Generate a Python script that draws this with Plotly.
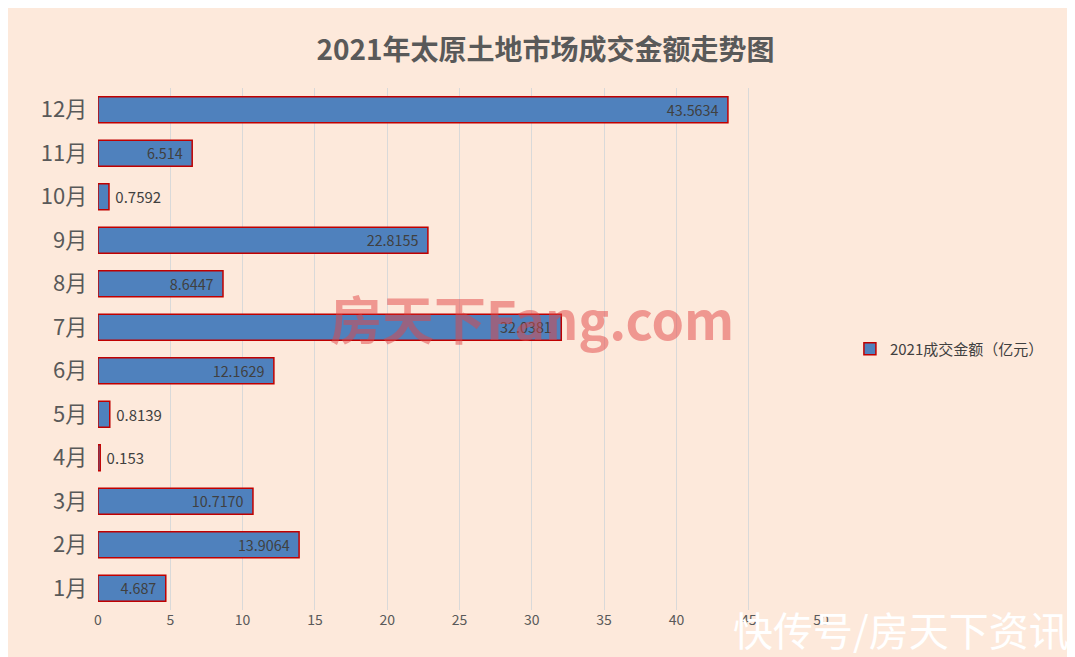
import plotly.graph_objects as go

months = ["1月", "2月", "3月", "4月", "5月", "6月", "7月", "8月", "9月", "10月", "11月", "12月"]
values = [4.687, 13.9064, 10.7170, 0.153, 0.8139, 12.1629, 32.0381, 8.6447, 22.8155, 0.7592, 6.514, 43.5634]
labels = ["4.687", "13.9064", "10.7170", "0.153", "0.8139", "12.1629", "32.0381", "8.6447", "22.8155", "0.7592", "6.514", "43.5634"]
x_ticks = [0, 5, 10, 15, 20, 25, 30, 35, 40, 45, 50]

positions = ["inside" if v > 3 else "outside" for v in values]

fig = go.Figure()
fig.add_trace(go.Bar(
    y=months, x=values, orientation="h",
    name="2021成交金额（亿元）",
    text=[l + "  " if p == "inside" else " " + l for l, p in zip(labels, positions)],
    textposition=positions, insidetextanchor="end",
    textfont={"size": 15, "color": "#404040"},
    marker={"color": "#4F81BD", "line": {"color": "#C00000", "width": 1.5}},
    cliponaxis=False,
))

fig.add_annotation(
    text="<b>房天下Fang.com</b>", x=0.6, y=0.56, xref="paper", yref="paper",
    showarrow=False, font={"size": 52, "color": "rgba(225,70,70,0.5)", "family": "Noto Sans CJK SC"},
)
fig.add_annotation(
    text="快传号/房天下资讯", x=1.0, y=0.0, xref="paper", yref="paper", xshift=250, yshift=-50,
    xanchor="right", yanchor="bottom", showarrow=False,
    font={"size": 40, "color": "white", "family": "Noto Sans CJK SC"},
)

fig.update_layout(
    width=1075, height=657,
    title={"text": "<b>2021年太原土地市场成交金额走势图</b>", "x": 0.5, "y": 0.95,
           "font": {"size": 28, "color": "#595959"}},
    paper_bgcolor="#FDE9DB", plot_bgcolor="#FDE9DB",
    margin={"l": 90, "r": 262, "t": 80, "b": 55},
    bargap=0.4,
    font={"family": "Noto Sans CJK SC", "color": "#595959"},
    showlegend=True,
    legend={"x": 1.04, "y": 0.5, "yanchor": "middle", "font": {"size": 15, "color": "#404040"},
            "bgcolor": "rgba(0,0,0,0)"},
    xaxis={"range": [0, 50], "tickvals": x_ticks, "showgrid": True, "gridcolor": "#D9D9D9",
           "zeroline": False, "tickfont": {"size": 14}, "showline": False},
    yaxis={"tickfont": {"size": 22}, "showgrid": False, "ticksuffix": "  "},
)

fig.write_html("out.html")
